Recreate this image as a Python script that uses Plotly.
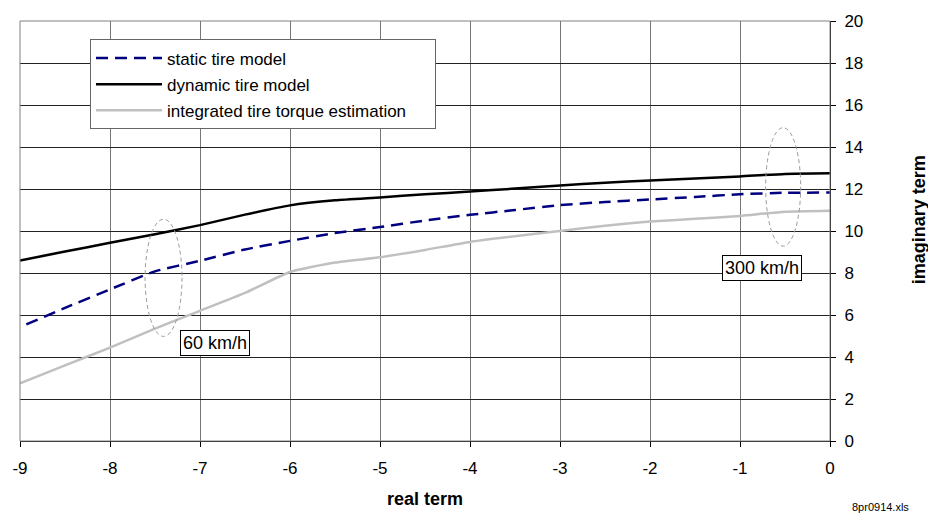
import plotly.graph_objects as go

x_common = [-9, -8.5, -8, -7.5, -7, -6.5, -6, -5.5, -5, -4.5, -4, -3.5, -3, -2.5, -2, -1.5, -1, -0.5, 0]
dynamic_y = [8.6, 9.02, 9.44, 9.85, 10.28, 10.78, 11.22, 11.46, 11.6, 11.75, 11.88, 12.02, 12.17, 12.3, 12.41, 12.5, 12.6, 12.72, 12.75]
static_x = [-8.93, -8.5, -8, -7.5, -7, -6.5, -6, -5.5, -5, -4.5, -4, -3.5, -3, -2.5, -2, -1.5, -1, -0.5, 0]
static_y = [5.55, 6.34, 7.22, 8.08, 8.58, 9.12, 9.53, 9.9, 10.19, 10.5, 10.77, 11.0, 11.23, 11.38, 11.5, 11.62, 11.75, 11.82, 11.83]
integrated_y = [2.74, 3.6, 4.45, 5.35, 6.2, 7.05, 8.05, 8.5, 8.75, 9.1, 9.48, 9.75, 10.0, 10.25, 10.45, 10.58, 10.72, 10.92, 10.97]

series_names = ["static tire model", "dynamic tire model", "integrated tire torque estimation"]

x_ticks = [-9, -8, -7, -6, -5, -4, -3, -2, -1, 0]
y_ticks = [0, 2, 4, 6, 8, 10, 12, 14, 16, 18, 20]

ellipse_60 = dict(x0=-7.61, x1=-7.2, y0=4.98, y1=10.56)
ellipse_300 = dict(x0=-0.715, x1=-0.326, y0=9.28, y1=14.92)
label_60 = dict(text="60 km/h", x=-6.83, y=4.69)
label_300 = dict(text="300 km/h", x=-0.756, y=8.26)

FONT = "Liberation Sans, Arial, sans-serif"
PAD = "\u00a0" * 5

fig = go.Figure()
fig.add_trace(go.Scatter(x=static_x, y=static_y, mode="lines", name=series_names[0] + PAD,
                         legendgroup="a",
                         line=dict(color="#000080", width=2.5, dash="12px,7px", shape="spline", smoothing=0.5)))
fig.add_trace(go.Scatter(x=x_common, y=dynamic_y, mode="lines", name=series_names[1] + PAD,
                         legendgroup="b",
                         line=dict(color="#000000", width=2.5, shape="spline", smoothing=0.5)))
fig.add_trace(go.Scatter(x=x_common, y=integrated_y, mode="lines", name=series_names[2] + PAD,
                         legendgroup="c",
                         line=dict(color="#c0c0c0", width=2.5, shape="spline", smoothing=0.5)))

for e in (ellipse_60, ellipse_300):
    fig.add_shape(type="circle", xref="x", yref="y", **e,
                  line=dict(color="#999999", width=1, dash="4px,3px"))

# gray plot border
fig.add_shape(type="rect", xref="paper", yref="paper", x0=0, x1=1, y0=0, y1=1,
              line=dict(color="#808080", width=1), layer="above")

for lab in (label_60, label_300):
    fig.add_annotation(x=lab["x"], y=lab["y"], text=lab["text"], showarrow=False,
                       font=dict(family=FONT, size=18, color="black"),
                       bgcolor="white", bordercolor="black", borderwidth=1, borderpad=2)

fig.add_annotation(x=0.5, y=-0.138, xref="paper", yref="paper", text="<b>real term</b>",
                   showarrow=False, xanchor="center", yanchor="middle",
                   font=dict(family=FONT, size=18, color="black"))
fig.add_annotation(x=1.110, y=0.526, xref="paper", yref="paper", text="<b>imaginary term</b>",
                   showarrow=False, textangle=-90, xanchor="center", yanchor="middle",
                   font=dict(family=FONT, size=18, color="black"))
fig.add_annotation(x=1.0247, y=-0.158, xref="paper", yref="paper", text="8pr0914.xls",
                   showarrow=False, yanchor="middle", xanchor="left", font=dict(family=FONT, size=11, color="black"))

fig.update_layout(
    width=928, height=516,
    margin=dict(l=20, r=98, t=15, b=75),
    paper_bgcolor="white", plot_bgcolor="white",
    font=dict(family=FONT, size=17, color="black"),
    showlegend=True,
    legend=dict(x=0.0864, y=0.956, xanchor="left", yanchor="top",
                bgcolor="white", bordercolor="#666666", borderwidth=1,
                font=dict(family=FONT, size=17, color="black"),
                tracegroupgap=1, itemwidth=66),
    xaxis=dict(range=[-9, 0], tickvals=x_ticks, ticktext=[str(v) for v in x_ticks],
               showgrid=True, gridcolor="#777777", gridwidth=1,
               zeroline=False, showline=True, linecolor="black", linewidth=1,
               ticks="outside", ticklen=5, tickcolor="black", ticklabelstandoff=7),
    yaxis=dict(range=[0, 20], tickvals=y_ticks, side="right",
               showgrid=True, gridcolor="#222222", gridwidth=1,
               zeroline=False, showline=True, linecolor="black", linewidth=1,
               ticks="outside", ticklen=5, tickcolor="black", ticklabelstandoff=5),
)

fig.write_html("out.html")
